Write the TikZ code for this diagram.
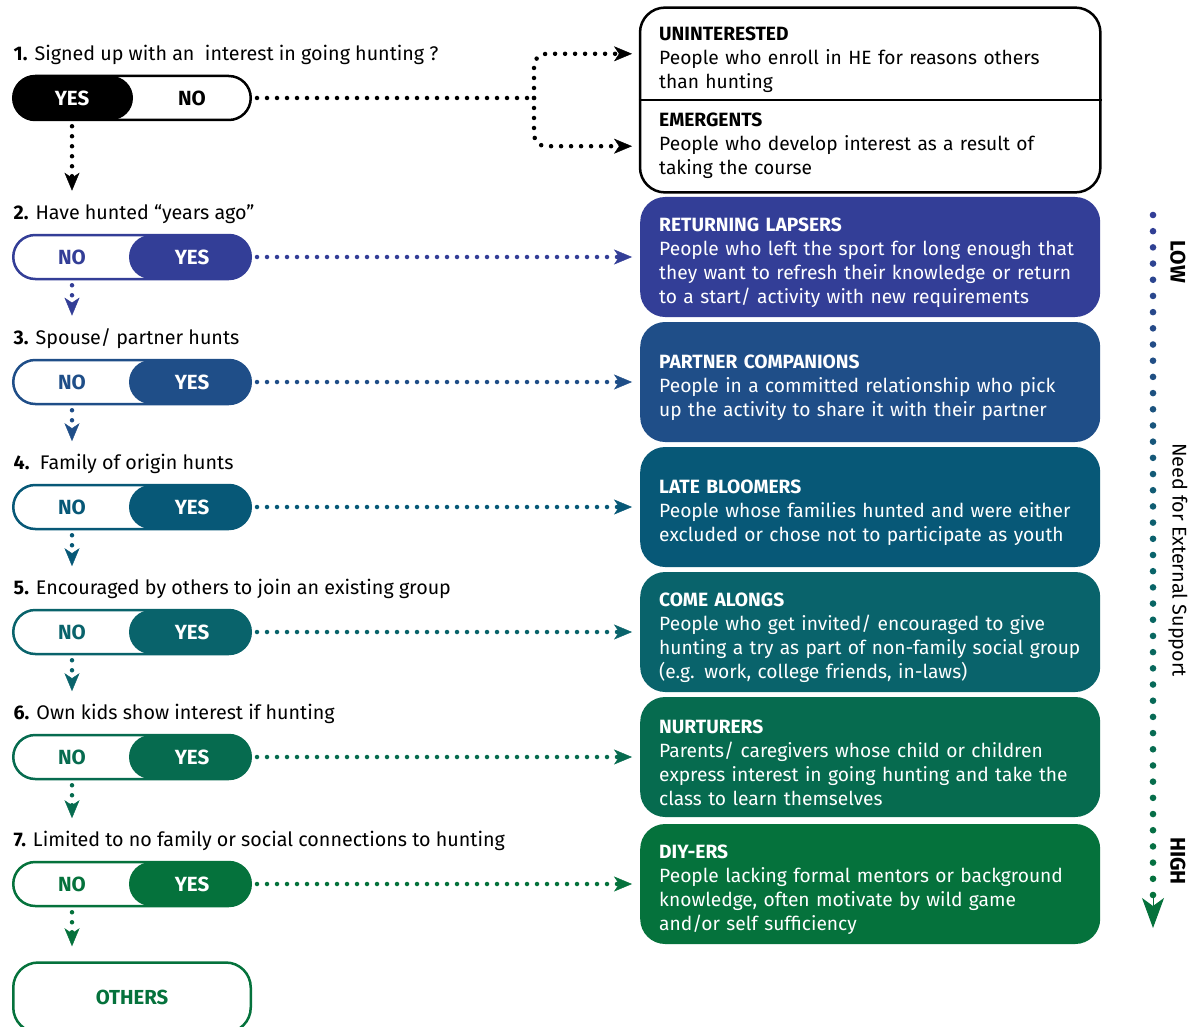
\documentclass[tikz,border=0pt]{standalone}
\usepackage{fontspec}
\setmainfont{Fira Sans}
\usetikzlibrary{arrows.meta,positioning,fit,calc}
\definecolor{lapblue}{RGB}{51,62,151}
\definecolor{partblue}{RGB}{31,78,136}
\definecolor{lateblue}{RGB}{7,88,119}
\definecolor{cometeal}{RGB}{9,99,107}
\definecolor{nurtgreen}{RGB}{6,107,79}
\definecolor{diygreen}{RGB}{5,114,60}

\begin{document}
\begin{tikzpicture}[x=1pt, y=-1pt,
    font=\fontsize{19.2}{24}\selectfont,
    pill/.style={draw=#1, line width=2.5pt, rounded corners=22pt, minimum width=237.5pt, minimum height=44pt, inner sep=0pt},
    fillright/.style={path picture={\fill[#1] ([xshift=-3pt]path picture bounding box.north) rectangle (path picture bounding box.south east);}},
    fillleft/.style={path picture={\fill[#1] (path picture bounding box.north west) rectangle ([xshift=1pt]path picture bounding box.south);}},
    ans/.style={font=\fontsize{20.5}{22}\selectfont\bfseries, inner sep=0pt},
    question/.style={anchor=base west, inner sep=0pt, font=\fontsize{19.7}{24}\selectfont},
    typebox/.style={fill=#1, text=white, rounded corners=25pt, minimum width=460pt, minimum height=120pt, text width=422pt, inner xsep=19pt, align=left, execute at begin node={\rule{0pt}{26pt}}},
    halfbox/.style={minimum width=460pt, minimum height=92pt, text width=422pt, inner xsep=19pt, align=left},
    dotline/.style={draw=#1, line width=4.5pt, line cap=round, dash pattern=on 0pt off 10pt, shorten <=5pt},
    dotarr/.style={dotline=#1, -{Stealth[length=18pt, width=15pt, inset=5pt, line width=0.4pt]}},
    scalelbl/.style={rotate=-90, inner sep=0pt, font=\fontsize{19.8}{22}\selectfont}
]
\path[use as bounding box, fill=white] (0,0) rectangle (1188,1027);

% questions and yes/no pills
\node[pill=black, fillleft=black] (p1) at (132,98) {};
\node[ans, text=white] (p1yes) at ([xshift=-60pt]p1.center) {YES};
\node[ans] (p1no) at ([xshift=60pt]p1.center) {NO};
\node[question] (q1) at ([xshift=1.5pt, yshift=14pt]p1.north west) {\textbf{1.} Signed up with an\ \ interest in going hunting ?};

\node[pill=lapblue, fillright=lapblue, below=112.5pt of p1] (p2) {};
\node[ans, text=lapblue] (p2no) at ([xshift=-60pt]p2.center) {NO};
\node[ans, text=white] (p2yes) at ([xshift=60pt]p2.center) {YES};
\node[question] (q2) at ([xshift=1.5pt, yshift=14pt]p2.north west) {\textbf{2.} Have hunted “years ago”};

\node[pill=partblue, fillright=partblue, below=78.5pt of p2] (p3) {};
\node[ans, text=partblue] (p3no) at ([xshift=-60pt]p3.center) {NO};
\node[ans, text=white] (p3yes) at ([xshift=60pt]p3.center) {YES};
\node[question] (q3) at ([xshift=1.5pt, yshift=14pt]p3.north west) {\textbf{3.} Spouse/ partner hunts};

\node[pill=lateblue, fillright=lateblue, below=78.5pt of p3] (p4) {};
\node[ans, text=lateblue] (p4no) at ([xshift=-60pt]p4.center) {NO};
\node[ans, text=white] (p4yes) at ([xshift=60pt]p4.center) {YES};
\node[question] (q4) at ([xshift=1.5pt, yshift=14pt]p4.north west) {\textbf{4.}\ \ Family of origin hunts};

\node[pill=cometeal, fillright=cometeal, below=78.5pt of p4] (p5) {};
\node[ans, text=cometeal] (p5no) at ([xshift=-60pt]p5.center) {NO};
\node[ans, text=white] (p5yes) at ([xshift=60pt]p5.center) {YES};
\node[question] (q5) at ([xshift=1.5pt, yshift=14pt]p5.north west) {\textbf{5.} Encouraged by others to join an existing group};

\node[pill=nurtgreen, fillright=nurtgreen, below=78.5pt of p5] (p6) {};
\node[ans, text=nurtgreen] (p6no) at ([xshift=-60pt]p6.center) {NO};
\node[ans, text=white] (p6yes) at ([xshift=60pt]p6.center) {YES};
\node[question] (q6) at ([xshift=1.5pt, yshift=14pt]p6.north west) {\textbf{6.} Own kids show interest if hunting};

\node[pill=diygreen, fillright=diygreen, below=80.5pt of p6] (p7) {};
\node[ans, text=diygreen] (p7no) at ([xshift=-60pt]p7.center) {NO};
\node[ans, text=white] (p7yes) at ([xshift=60pt]p7.center) {YES};
\node[question] (q7) at ([xshift=1.5pt, yshift=14pt]p7.north west) {\textbf{7.} Limited to no family or social connections to hunting};

\node[draw=diygreen, line width=2.5pt, rounded corners=25pt, minimum width=237.5pt, minimum height=70pt,
      text=diygreen, font=\fontsize{20.3}{22}\selectfont\bfseries, below=54pt of p7] (others) {OTHERS};

% hunter types
\node[halfbox, anchor=south west, execute at begin node={\rule{0pt}{26pt}}] (unint) at ([xshift=388pt, yshift=-2pt]p1.east)
    {\textbf{UNINTERESTED}\\People who enroll in HE for reasons others\\than hunting};
\node[halfbox, below=0pt of unint] (emerg)
    {\textbf{EMERGENTS}\\People who develop interest as a result of\\taking the course};
\node[draw, line width=2.5pt, rounded corners=25pt, inner sep=0pt, fit=(unint)(emerg)] (interest) {};
\draw[line width=2.5pt] (interest.west |- unint.south) -- (interest.east |- unint.south);

\node[typebox=lapblue, right=388pt of p2] (lapsers)
    {\textbf{RETURNING LAPSERS}\\People who left the sport for long enough that\\they want to refresh their knowledge or return\\to a start/ activity with new requirements};
\node[typebox=partblue, right=388pt of p3] (partners)
    {\textbf{PARTNER COMPANIONS}\\People in a committed relationship who pick\\up the activity to share it with their partner};
\node[typebox=lateblue, right=388pt of p4] (bloomers)
    {\textbf{LATE BLOOMERS}\\People whose families hunted and were either\\excluded or chose not to participate as youth};
\node[typebox=cometeal, right=388pt of p5] (comealongs)
    {\textbf{COME ALONGS}\\People who get invited/ encouraged to give\\hunting a try as part of non-family social group\\(e.g. work, college friends, in-laws)};
\node[typebox=nurtgreen, right=388pt of p6] (nurturers)
    {\textbf{NURTURERS}\\Parents/ caregivers whose child or children\\express interest in going hunting and take the\\class to learn themselves};
\node[typebox=diygreen, right=388pt of p7] (diyers)
    {\textbf{DIY-ERS}\\People lacking formal mentors or background\\knowledge, often motivate by wild game\\and/or self sufficiency};

% yes arrows
\coordinate[right=282pt of p1.east] (split);
\draw[dotline=black] (p1.east) -- (split);
\draw[dotarr=black, rounded corners=12pt, shorten >=8pt, shorten <=0pt] (split) |- (unint.west);
\draw[dotarr=black, rounded corners=12pt, shorten >=8pt, shorten <=0pt] (split) |- (emerg.west);
\draw[dotarr=lapblue, shorten >=8pt] (p2.east) -- (lapsers.west);
\draw[dotarr=partblue, shorten >=8pt] (p3.east) -- (partners.west);
\draw[dotarr=lateblue, shorten >=8pt] (p4.east) -- (bloomers.west);
\draw[dotarr=cometeal, shorten >=8pt] (p5.east) -- (comealongs.west);
\draw[dotarr=nurtgreen, shorten >=8pt] (p6.east) -- (nurturers.west);
\draw[dotarr=diygreen, shorten >=8pt] (p7.east) -- (diyers.west);

% no arrows
\draw[dotarr=black, shorten >=14pt] (p1yes |- p1.south) -- (p1yes |- q2.north);
\draw[dotarr=lapblue, shorten >=13pt] (p2no |- p2.south) -- (p2no |- q3.north);
\draw[dotarr=partblue, shorten >=13pt] (p3no |- p3.south) -- (p3no |- q4.north);
\draw[dotarr=lateblue, shorten >=13pt] (p4no |- p4.south) -- (p4no |- q5.north);
\draw[dotarr=cometeal, shorten >=13pt] (p5no |- p5.south) -- (p5no |- q6.north);
\draw[dotarr=nurtgreen, shorten >=13pt] (p6no |- p6.south) -- (p6no |- q7.north);
\draw[dotarr=diygreen, shorten >=15pt] (p7no |- p7.south) -- (p7no |- others.north);

% need for external support
\coordinate (lowend) at (1153,215);
\coordinate (highend) at (1153,895);
\coordinate (hightip) at (1153,928);
\foreach \k in {0,...,42}{
  \ifnum\k<22
    \pgfmathtruncatemacro{\mixpct}{100*\k/21}
    \fill[cometeal!\mixpct!lapblue] ($(lowend)!\k/42!(highend)$) circle (3.3pt);
  \else
    \pgfmathtruncatemacro{\mixpct}{100*(\k-21)/21}
    \fill[diygreen!\mixpct!cometeal] ($(lowend)!\k/42!(highend)$) circle (3.3pt);
  \fi
}
\draw[diygreen, line width=1pt, -{Stealth[length=30pt, width=22pt, inset=8pt]}] (highend) -- (hightip);
\node[scalelbl, font=\fontsize{21}{22}\selectfont\bfseries] (lowlbl) at (1178,262) {LOW};
\node[scalelbl] (needlbl) at (1178,560) {Need for External Support};
\node[scalelbl, font=\fontsize{21}{22}\selectfont\bfseries] (highlbl) at (1178,861) {HIGH};
\end{tikzpicture}
\end{document}
